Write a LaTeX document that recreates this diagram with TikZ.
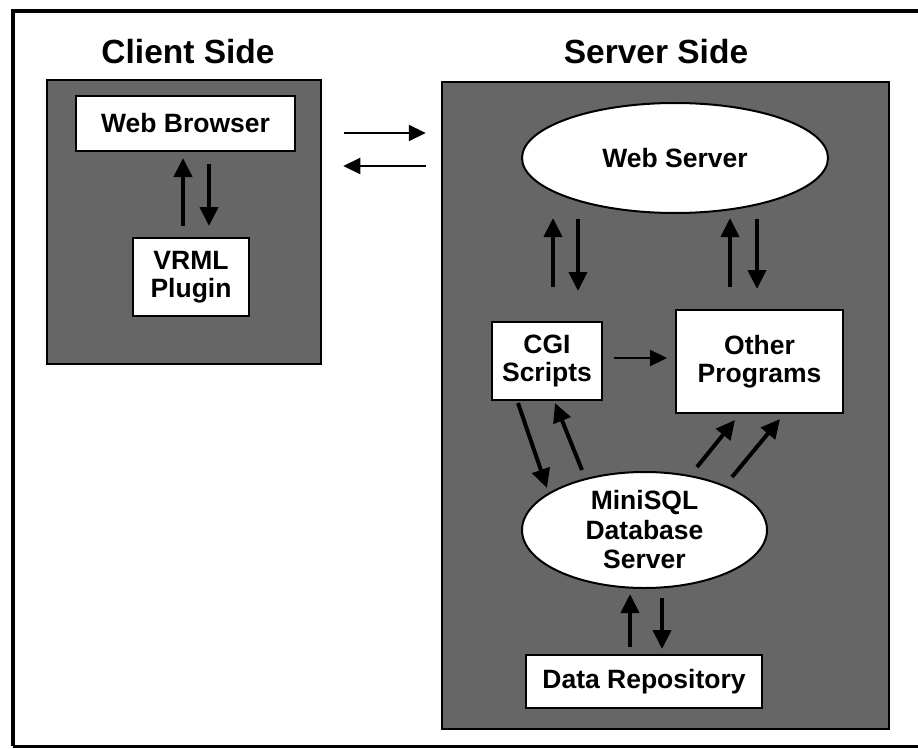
\documentclass[tikz,border=0pt]{standalone}
\usepackage{fontspec}
\setmainfont{Liberation Sans}
\usetikzlibrary{arrows.meta,calc,shapes.geometric}
\begin{document}
\begin{tikzpicture}[x=1pt,y=-1pt,
  panel/.style={draw=black, line width=2.5pt, fill=black!60, inner sep=0pt},
  box/.style={draw=black, line width=2pt, fill=white, inner sep=0pt, align=center,
    font=\fontsize{26.5}{28}\selectfont\bfseries},
  oval/.style={ellipse, draw=black, line width=2pt, fill=white, inner sep=0pt, align=center,
    font=\fontsize{26.5}{29.5}\selectfont\bfseries},
  title/.style={font=\fontsize{33.5}{36}\selectfont\bfseries},
  fat/.style={line width=4pt, -{Triangle[length=19pt,width=18pt]}},
  slim/.style={line width=2.2pt, -{Triangle[length=17pt,width=16pt]}},
]
\useasboundingbox (0,0) rectangle (918,749);
\clip (0,0) rectangle (918,749);
\fill[white] (0,0) rectangle (918,749);
% outer frame
\draw[line width=4pt] (13,746) -- (13,11) -- (940,11);
\draw[line width=3pt] (13,746) -- (940,746);

% titles
\node[title] (tclient) at (188,52) {Client Side};
\node[title] (tserver) at (656,52) {Server Side};

% panels
\node[panel, minimum width=274pt, minimum height=284pt] (client) at (184,222) {};
\node[panel, minimum width=447pt, minimum height=647pt] (server) at (665.5,405.5) {};

% client side nodes
\node[box, minimum width=219pt, minimum height=55pt] (wb) at (185.5,123.5) {Web Browser};
\node[box, minimum width=116pt, minimum height=78pt] (vrml) at (191,277) {VRML\\Plugin};

% server side nodes
\node[oval, minimum width=306pt, minimum height=110pt] (ws) at (675,158) {Web Server};
\node[box, minimum width=110pt, minimum height=78pt] (cgi) at (547,361) {CGI\\Scripts};
\node[box, minimum width=167pt, minimum height=103pt] (other) at (759.5,361.5) {Other\\Programs};
\node[oval, minimum width=245pt, minimum height=116pt] (msql) at (644.5,530) {MiniSQL\\Database\\Server};
\node[box, minimum width=236pt, minimum height=53pt] (dr) at (644,681.5) {Data Repository};

% client arrows
\draw[fat, shorten <=11pt, shorten >=6pt] ([xshift=-8pt]vrml.north) -- ([xshift=-8pt]vrml.north |- wb.south);
\draw[fat, shorten <=12pt, shorten >=11pt] ([xshift=18pt]vrml.north |- wb.south) -- ([xshift=18pt]vrml.north);

% client <-> server
\draw[slim, shorten <=22pt, shorten >=15pt] ([yshift=89pt]client.east) -- ([yshift=89pt]client.east -| server.west);
\draw[slim, shorten <=15pt, shorten >=21pt] ([yshift=56pt]client.east -| server.west) -- ([yshift=56pt]client.east);

% web server <-> cgi
\draw[fat, shorten <=34pt, shorten >=4pt] ([xshift=6pt]cgi.north) -- ([xshift=6pt]cgi.north |- ws.south);
\draw[fat, shorten <=5pt, shorten >=30pt] ([xshift=31pt]cgi.north |- ws.south) -- ([xshift=31pt]cgi.north);

% web server <-> other
\draw[fat, shorten <=22pt, shorten >=4pt] ([xshift=-29.5pt]other.north) -- ([xshift=-29.5pt]other.north |- ws.south);
\draw[fat, shorten <=5pt, shorten >=20pt] ([xshift=-2.5pt]other.north |- ws.south) -- ([xshift=-2.5pt]other.north);

% cgi -> other
\draw[slim, shorten <=11pt, shorten >=8pt] ([yshift=3pt]cgi.east) -- ([yshift=3pt]cgi.east -| other.west);

% cgi <-> minisql
\draw[fat] ($(cgi.south)+(-29,2)$) -- ($(msql.center)+(-97.5,-42)$);
\draw[fat] ($(msql.center)+(-62.5,-60)$) -- ($(cgi.south)+(8,2)$);

% minisql -> other
\draw[fat] ($(msql.center)+(52.5,-63)$) -- ($(other.south)+(-24.5,6)$);
\draw[fat] ($(msql.center)+(87.5,-53)$) -- ($(other.south)+(20.5,5)$);

% minisql <-> data repository
\draw[fat, shorten <=7pt, shorten >=5pt] ([xshift=-14pt]dr.north) -- ([xshift=-14pt]dr.north |- msql.south);
\draw[fat, shorten <=9pt, shorten >=5pt] ([xshift=18pt]dr.north |- msql.south) -- ([xshift=18pt]dr.north);
\end{tikzpicture}
\end{document}
